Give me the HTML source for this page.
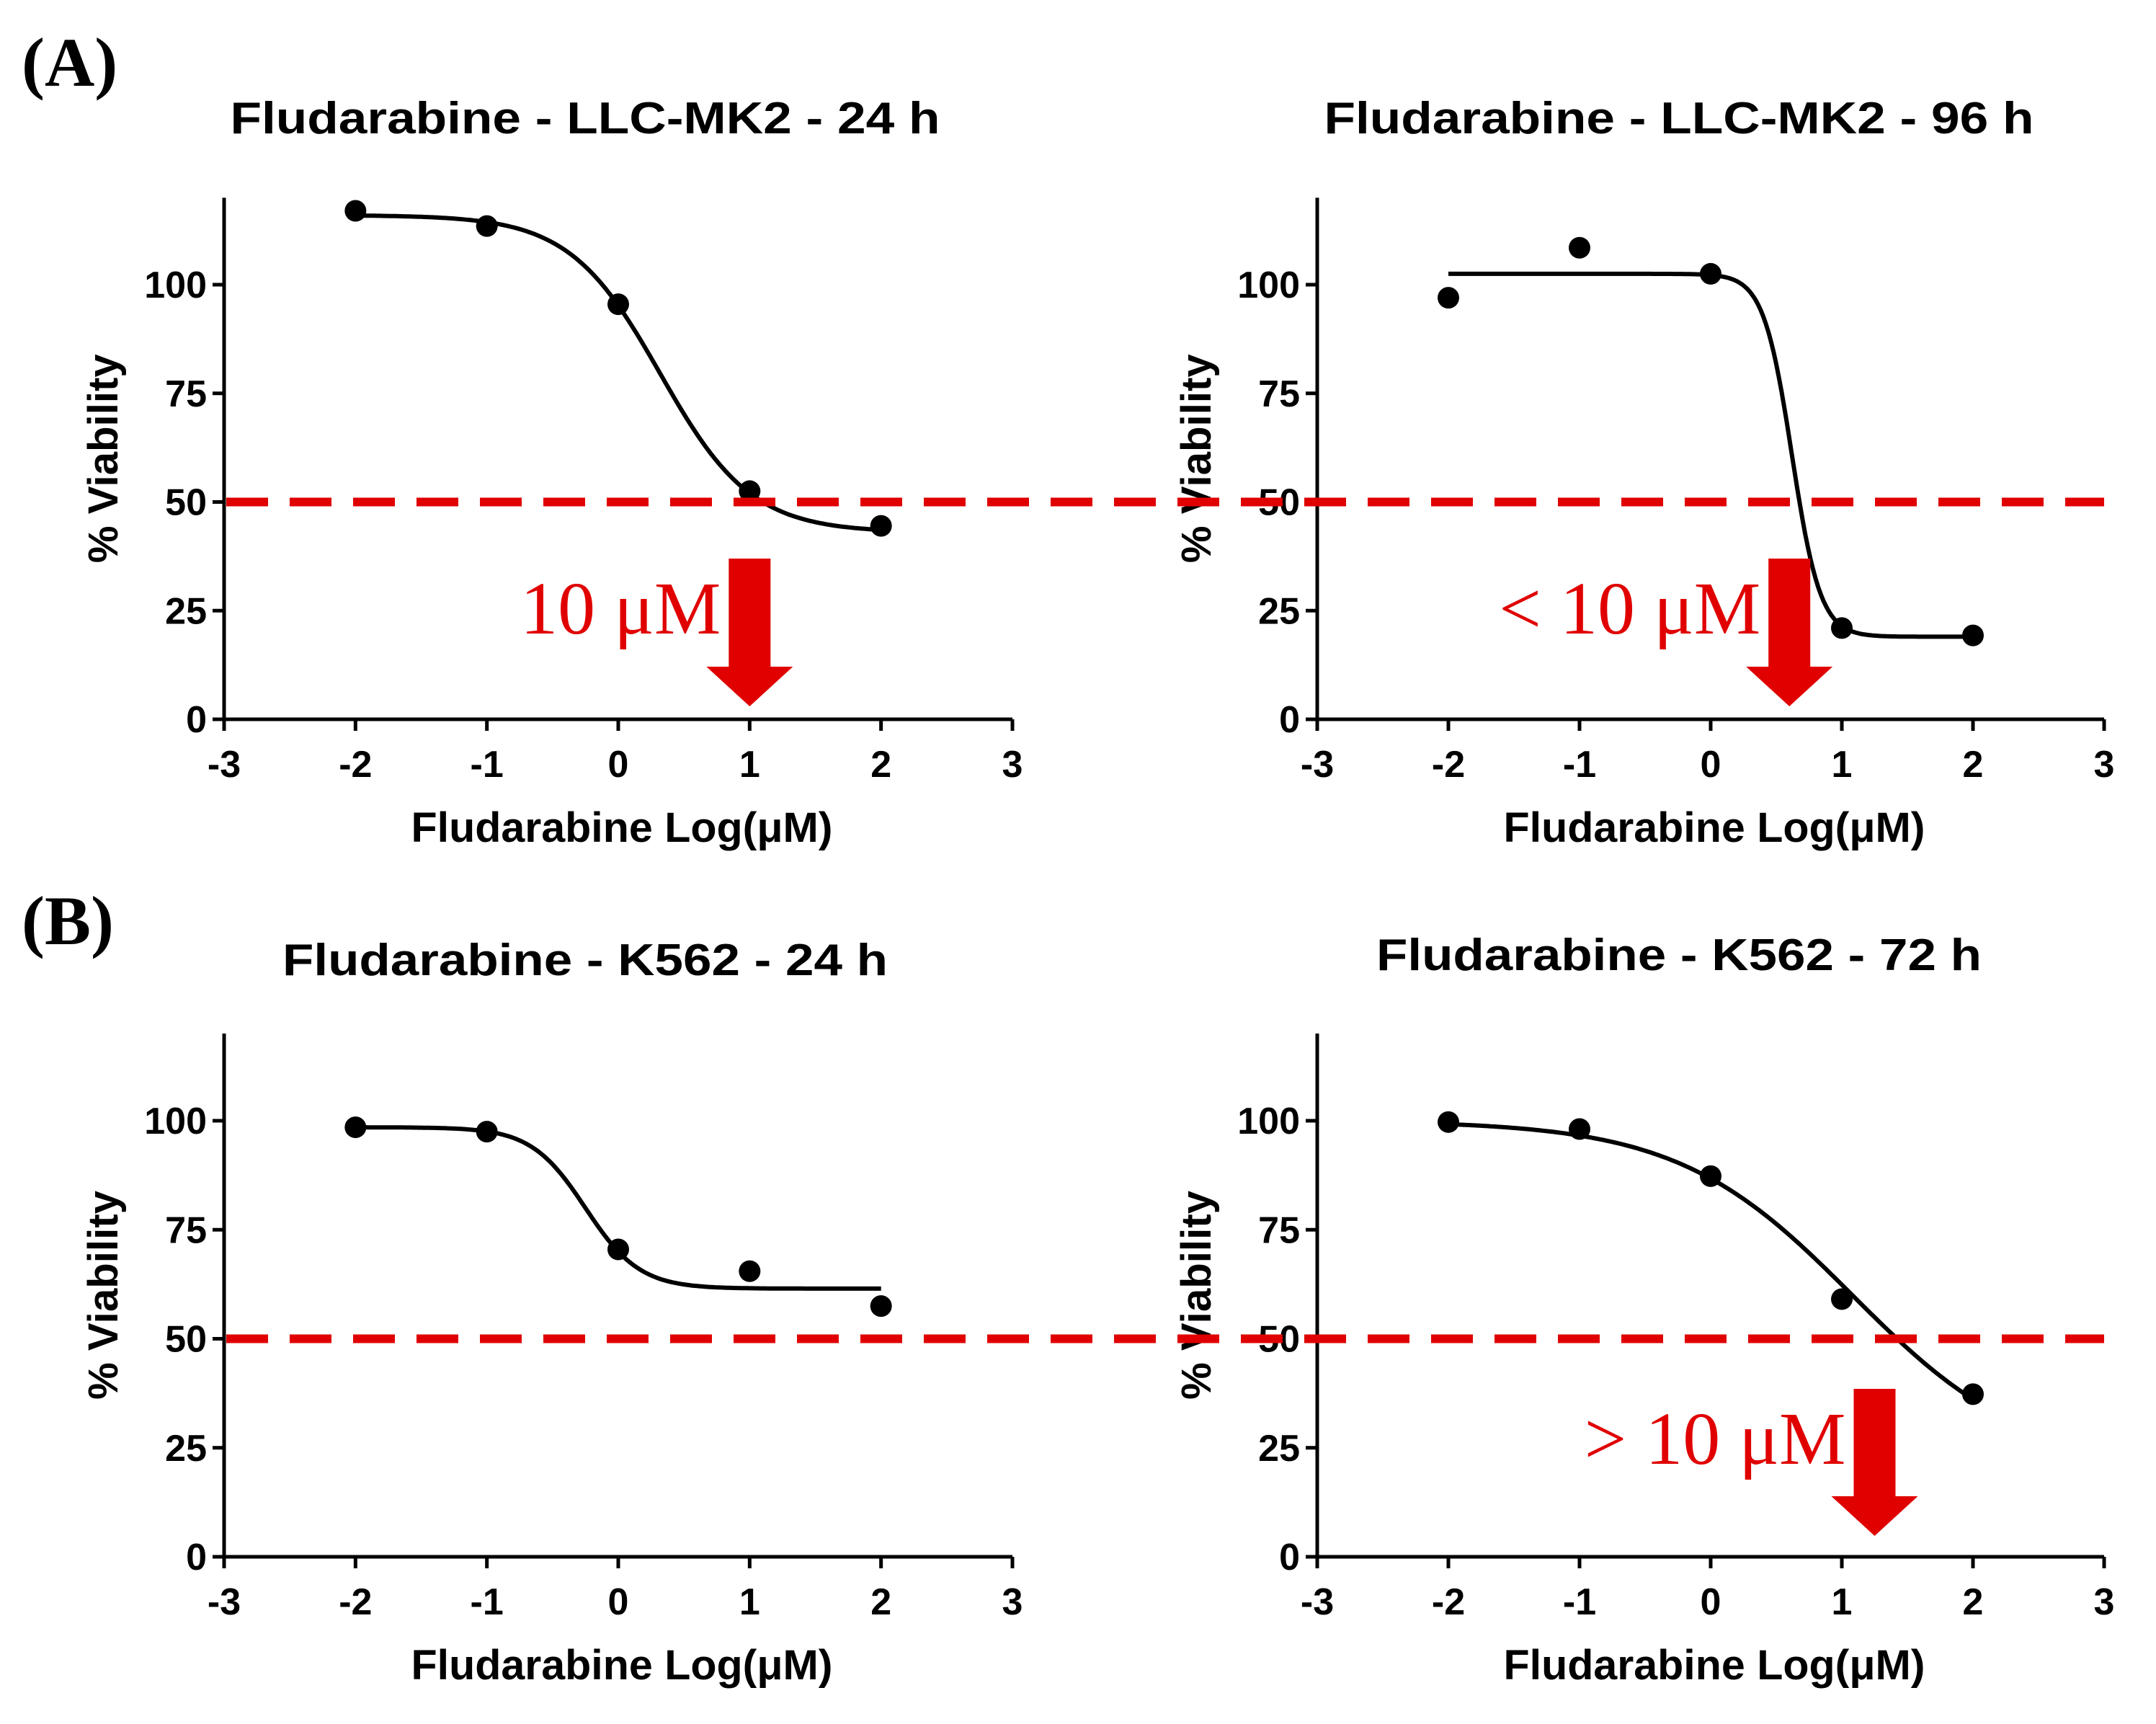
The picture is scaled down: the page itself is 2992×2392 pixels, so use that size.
<!DOCTYPE html>
<html><head><meta charset="utf-8"><style>
html,body{margin:0;padding:0;background:#fff}
svg{display:block}
</style></head><body>
<svg id="fig" width="2992" height="2392" viewBox="0 0 2992 2392" xmlns="http://www.w3.org/2000/svg">
<text x="30" y="119" font-family="Liberation Serif, serif" font-weight="bold" font-size="96">(A)</text>
<text x="30" y="1310" font-family="Liberation Serif, serif" font-weight="bold" font-size="96">(B)</text>
</svg>
<script>
const xTicks = [-3,-2,-1,0,1,2,3];
const yTicks = [0,25,50,75,100];
const doses = [-2,-1,0,1,2];
const titles = ["Fludarabine - LLC-MK2 - 24 h","Fludarabine - LLC-MK2 - 96 h","Fludarabine - K562 - 24 h","Fludarabine - K562 - 72 h"];
const vA24 = [117,113.5,95.5,52.5,44.5];
const vA96 = [97,108.5,102.5,21,19.3];
const vB24 = [98.5,97.5,70.5,65.5,57.5];
const vB72 = [99.7,98.1,87.3,59.1,37.3];
// fit params: top, bottom, logIC50, hill
const fA24 = [116,43,0.32,1.25];
const fA96 = [102.5,19,0.62,4];
const fB24 = [98.5,61.5,-0.25,2.1];
const fB72 = [100,20,1.08,0.65];
const cutoff = 50;
const arrowLabels = ["10 \u03bcM","< 10 \u03bcM","> 10 \u03bcM"];
const arrowX = [1.0, 0.6, 1.25];

const NS="http://www.w3.org/2000/svg";
const svg=document.getElementById('fig');
function mk(tag,attrs,parent){const e=document.createElementNS(NS,tag);for(const k in attrs)e.setAttribute(k,attrs[k]);(parent||svg).appendChild(e);return e;}
const panels=[
 {x0:311,x1:1405,y0:998,u:6.03,title:titles[0],vals:vA24,fit:fA24,tx:812,ty:185,tl:985},
 {x0:1828,x1:2920,y0:998,u:6.03,title:titles[1],vals:vA96,fit:fA96,tx:2330,ty:185,tl:985},
 {x0:311,x1:1405,y0:2160,u:6.05,title:titles[2],vals:vB24,fit:fB24,tx:812,ty:1353,tl:840},
 {x0:1828,x1:2920,y0:2160,u:6.05,title:titles[3],vals:vB72,fit:fB72,tx:2330,ty:1346,tl:840}
];
panels.forEach((p,i)=>{
 const g=mk('g',{});
 
 
 const sx=v=>p.x0+(v-xTicks[0])*(p.x1-p.x0)/(xTicks[xTicks.length-1]-xTicks[0]);
 const sy=v=>p.y0-v*p.u;
 p.sx=sx;p.sy=sy;
 const t=mk('text',{x:p.tx,y:p.ty,'text-anchor':'middle','font-family':'Liberation Sans, sans-serif','font-weight':'bold','font-size':'62',textLength:p.tl,lengthAdjust:'spacingAndGlyphs'},g);
 t.textContent=p.title;
 
 
 const ax=mk('path',{d:`M${p.x0} ${sy(120)}V${p.y0}H${p.x1}`,stroke:'#000','stroke-width':5,fill:'none'},g);
 
 
 xTicks.forEach(v=>{
  mk('line',{x1:sx(v),x2:sx(v),y1:p.y0,y2:p.y0+16,stroke:'#000','stroke-width':5},g);
  const l=mk('text',{x:sx(v),y:p.y0+80,'text-anchor':'middle','font-family':'Liberation Sans, sans-serif','font-weight':'bold','font-size':'52'},g);
  l.textContent=v;
  
  
 });
 yTicks.forEach(v=>{
  mk('line',{x1:p.x0-16,x2:p.x0,y1:sy(v),y2:sy(v),stroke:'#000','stroke-width':5},g);
  const l=mk('text',{x:p.x0-24,y:sy(v)+18,'text-anchor':'end','font-family':'Liberation Sans, sans-serif','font-weight':'bold','font-size':'52'},g);
  l.textContent=v;
  
  
 });
 const xl=mk('text',{x:(p.x0+p.x1)/2+5,y:p.y0+170,'text-anchor':'middle','font-family':'Liberation Sans, sans-serif','font-weight':'bold','font-size':'58',textLength:585,lengthAdjust:'spacingAndGlyphs'},g);
 xl.textContent="Fludarabine Log(\u03bcM)";
 
 
 const yc=sy(60);
 const yl=mk('text',{x:0,y:0,'text-anchor':'middle','font-family':'Liberation Sans, sans-serif','font-weight':'bold','font-size':'58',textLength:290,lengthAdjust:'spacingAndGlyphs',transform:`translate(${p.x0-148},${yc}) rotate(-90)`},g);
 yl.textContent="% Viability";
 
 
 const [top,bot,c,h]=p.fit;
 let d='';
 for(let k=0;k<=200;k++){const x=doses[0]+k*(doses[doses.length-1]-doses[0])/200;const y=bot+(top-bot)/(1+Math.pow(10,(x-c)*h));d+=(k?'L':'M')+sx(x).toFixed(1)+' '+sy(y).toFixed(1);}
 const cv=mk('path',{d:d,stroke:'#000','stroke-width':6,fill:'none'},g);
 
 
 p.vals.forEach((v,j)=>{
  const dot=mk('circle',{cx:sx(doses[j]),cy:sy(v),r:15,fill:'#000'},g);
  
  
 });
});
// cutoff lines spanning rows
[[panels[0],panels[1]],[panels[2],panels[3]]].forEach((r,i)=>{
 const y=r[0].sy(cutoff);
 const ln=mk('line',{x1:r[0].x0+3,x2:r[1].x1,y1:y,y2:y,stroke:'#e00000','stroke-width':12,'stroke-dasharray':'58 30'});
 
 
});
// arrows
[[panels[0],0,775,980],[panels[1],1,775,980],[panels[3],2,1927,2131]].forEach(([p,k,top,tip])=>{
 const cx=p.sx(arrowX[k]);
 const hs=tip-55;
 const ar=mk('path',{d:`M${cx-29} ${top}H${cx+29}V${hs}H${cx+60}L${cx} ${tip}L${cx-60} ${hs}H${cx-29}Z`,fill:'#e00000'});
 
 
 const tx=mk('text',{x:cx-40,y:top+104,'text-anchor':'end','font-family':'Liberation Serif, serif','font-size':'104',fill:'#e00000'});
 tx.textContent=arrowLabels[k];
 
 
});
</script>
</body></html>
